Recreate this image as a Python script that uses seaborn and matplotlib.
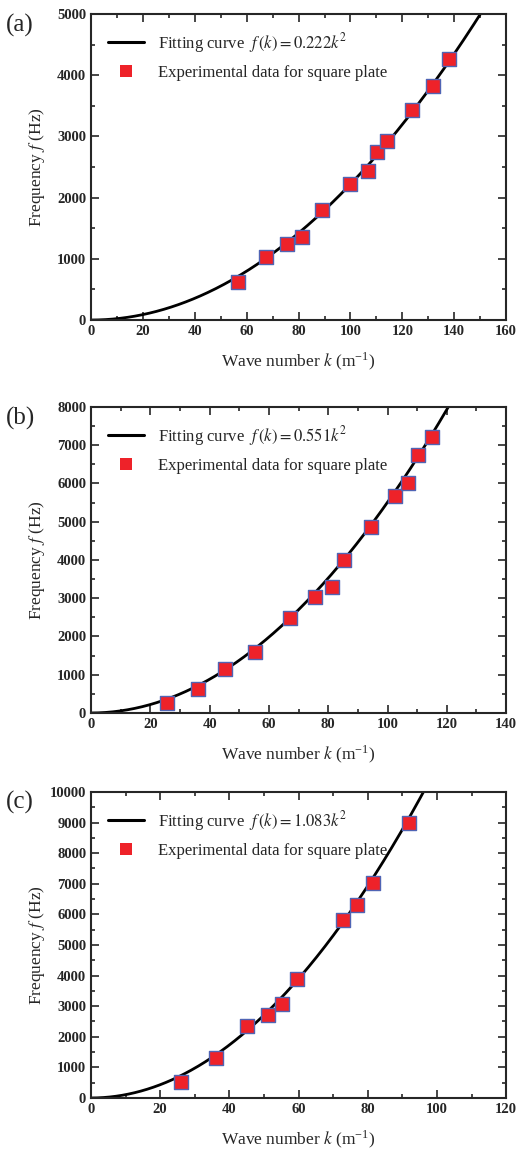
import matplotlib
matplotlib.use("Agg")
import matplotlib.pyplot as plt
from matplotlib.lines import Line2D
from matplotlib.ticker import MultipleLocator
import numpy as np
import pandas as pd
import seaborn as sns

# panel (a)
k_a = [56.8, 67.5, 75.7, 81.2, 88.9, 99.8, 106.7, 110.1, 114.0, 123.7, 132.0, 138.0]
f_a = [626, 1034, 1242, 1361, 1792, 2217, 2440, 2740, 2930, 3431, 3823, 4260]
# panel (b)
k_b = [25.8, 36.2, 45.2, 55.4, 67.2, 75.7, 81.2, 85.2, 94.5, 102.6, 106.9, 110.2, 114.9]
f_b = [254, 619, 1150, 1586, 2492, 3033, 3303, 3991, 4854, 5664, 6022, 6745, 7207]
# panel (c)
k_c = [26.1, 36.2, 45.2, 51.2, 55.2, 59.5, 72.8, 76.8, 81.5, 91.9]
f_c = [511, 1304, 2337, 2696, 3065, 3880, 5804, 6315, 7011, 9000]

coefs = [0.222, 0.551, 1.083]
coef_labels = ["0.222", "0.551", "1.083"]
panel_tags = ["(a)", "(b)", "(c)"]
xmax = [160, 140, 120]
ymax = [5000, 8000, 10000]

sns.set_style("ticks")
plt.rcParams["font.family"] = "serif"
plt.rcParams["font.serif"] = ["Liberation Serif", "DejaVu Serif"]
plt.rcParams["mathtext.fontset"] = "stix"

fig = plt.figure(figsize=(5.17, 11.52), dpi=100)
bottoms = [0.7222, 0.3811, 0.0469]
tag_y = [0.978, 0.637, 0.303]

red = "#ee2229"
edge = "#5064b4"

for i, (kk, ff) in enumerate([(k_a, f_a), (k_b, f_b), (k_c, f_c)]):
    ax = fig.add_axes([0.176, bottoms[i], 0.803, 0.2656])
    kfit = np.linspace(0, xmax[i], 400)
    fit = pd.DataFrame({"k": kfit, "f": coefs[i] * kfit ** 2})
    fit = fit[fit["f"] <= ymax[i] * 1.01]
    sns.lineplot(data=fit, x="k", y="f", ax=ax, color="black", lw=2)
    pts = pd.DataFrame({"k": kk, "f": ff})
    sns.scatterplot(data=pts, x="k", y="f", ax=ax, marker="s", s=115,
                    color=red, edgecolor=edge, linewidth=1.0, zorder=3)
    ax.set_xlim(0, xmax[i])
    ax.set_ylim(0, ymax[i])
    ax.xaxis.set_major_locator(MultipleLocator(20))
    ax.xaxis.set_minor_locator(MultipleLocator(10))
    ax.yaxis.set_major_locator(MultipleLocator(1000))
    ax.yaxis.set_minor_locator(MultipleLocator(500))
    ax.tick_params(which="both", direction="in", top=True, right=True, width=1.2)
    ax.tick_params(which="major", length=6, labelsize=10.5)
    ax.tick_params(which="minor", length=3)
    for lab in ax.get_xticklabels() + ax.get_yticklabels():
        lab.set_fontweight("bold")
    for sp in ax.spines.values():
        sp.set_linewidth(1.5)
    ax.set_xlabel(r"Wave number $k$ (m$^{\mathregular{-1}}$)", fontsize=12.5, labelpad=9)
    ax.set_ylabel(r"Frequency $f$ (Hz)", fontsize=12.5)
    ax.yaxis.set_label_coords(-0.105, 0.5)
    handles = [
        Line2D([], [], color="black", lw=2.2),
        Line2D([], [], marker="s", ls="none", color=red, markersize=8, markeredgewidth=0),
    ]
    labels = [
        r"Fitting curve  $f\,(k)=" + coef_labels[i] + r"k^2$",
        "Experimental data for square plate",
    ]
    ax.legend(handles, labels, loc="upper left", frameon=False, fontsize=12,
              handlelength=2.2, borderaxespad=0.6, labelspacing=0.6)
    fig.text(0.012, tag_y[i], panel_tags[i], fontsize=18, va="center", ha="left")

fig.savefig("out.png", dpi=100)
